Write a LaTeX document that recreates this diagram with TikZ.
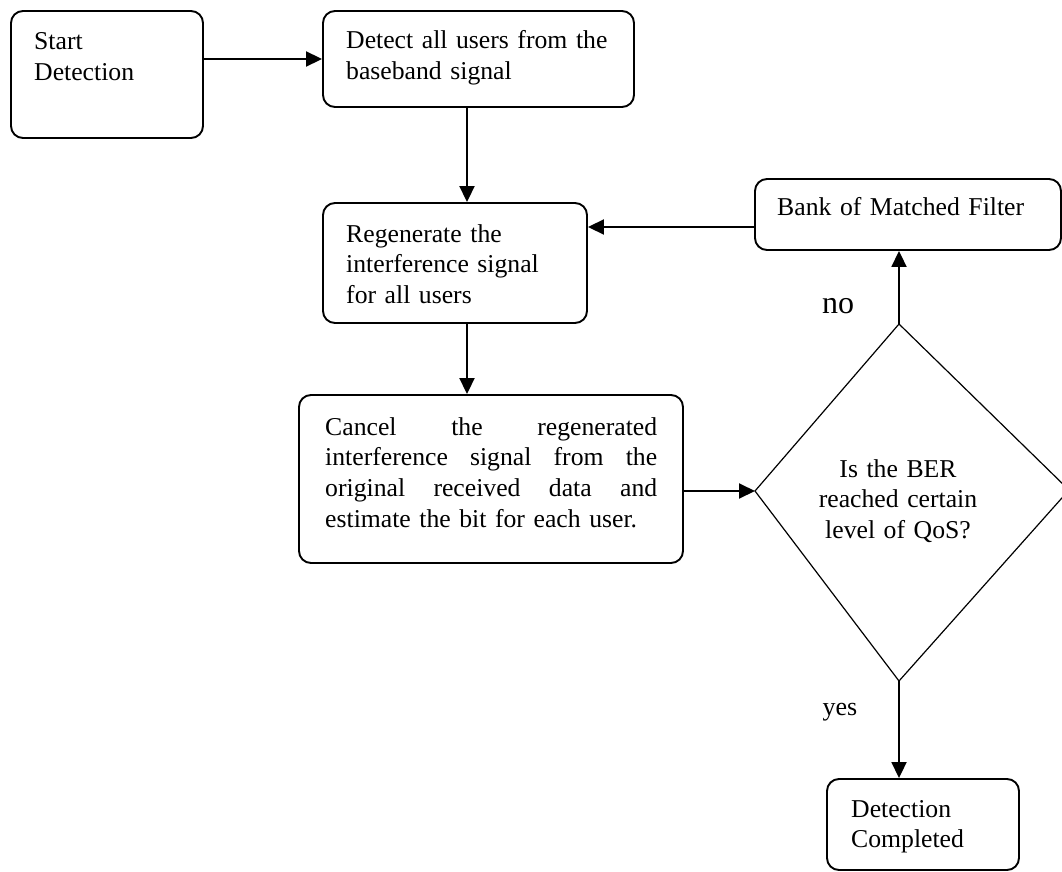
\documentclass[tikz,border=0pt]{standalone}
\usepackage{fontspec}
\setmainfont{Liberation Serif}
\usetikzlibrary{arrows.meta}

\tikzset{
  box/.style={draw, line width=1.9pt, rounded corners=12pt, inner sep=0pt},
  txt/.style={inner sep=0pt, anchor=base west, align=left,
    font=\fontsize{25.7}{30.7}\selectfont},
  arr/.style={line width=1.9pt, -{Triangle[length=16pt,width=15pt]}},
  decision/.style={draw, line width=1.2pt, line join=miter},
}

\begin{document}
\begin{tikzpicture}[x=1pt,y=-1pt]
\useasboundingbox (0,0) rectangle (1062,872);

% process boxes
\node[box, minimum width=192pt, minimum height=127pt] (start)  at (107,74.5) {};
\node[box, minimum width=311pt, minimum height=96pt]  (detect) at (478.5,59) {};
\node[box, minimum width=264pt, minimum height=120pt] (regen)  at (455,263) {};
\node[box, minimum width=306pt, minimum height=71pt]  (bank)   at (908,214.5) {};
\node[box, minimum width=384pt, minimum height=168pt] (cancel) at (491,479) {};
\node[box, minimum width=192pt, minimum height=91pt]  (done)   at (923,824.5) {};

% box texts
\node[txt, text width=160pt] (tstart)  at (34,50)   {Start\\Detection};
\node[txt, text width=280pt] (tdetect) at (346,49)  {Detect all users from the\\baseband signal};
\node[txt, text width=235pt] (tregen)  at (346,242) {Regenerate the\\interference signal\\for all users};
\node[txt, text width=280pt] (tbank)   at (777,215) {Bank of Matched Filter};
\node[txt, text width=332pt] (tcancel) at (325,435)
  {Cancel\hfill the\hfill regenerated\\
   interference\hfill signal\hfill from\hfill the\\
   original\hfill received\hfill data\hfill and\\
   estimate the bit for each user.};
\node[txt, text width=160pt] (tdone)   at (851,817) {Detection\\Completed};

% decision diamond
\coordinate (qt) at (899,324);
\coordinate (qr) at (1069,490);
\coordinate (qb) at (899,681);
\coordinate (ql) at (755,491);
\draw[decision] (qt) -- (qr) -- (qb) -- (ql) -- cycle;
\node[txt, anchor=base, align=center, text width=250pt] (q) at (898,477)
  {Is the BER\\reached certain\\level of QoS?};

% branch labels
\node[inner sep=0pt, font=\fontsize{32}{36}\selectfont] (lno)  at (838,306) {no};
\node[inner sep=0pt, font=\fontsize{26}{30}\selectfont] (lyes) at (840,712) {yes};

% connectors
\coordinate (col) at (467,0);
\coordinate (row) at (0,227);
\draw[arr] (start.east |- detect.west) -- (detect.west);
\draw[arr] (detect.south -| col) -- (regen.north -| col);
\draw[arr] (regen.south -| col) -- (cancel.north -| col);
\draw[arr] (bank.west |- row) -- (regen.east |- row);
\draw[arr] (cancel.east |- ql) -- (ql);
\draw[arr] (qt) -- (bank.south -| qt);
\draw[arr] (qb) -- (done.north -| qb);
\end{tikzpicture}
\end{document}
